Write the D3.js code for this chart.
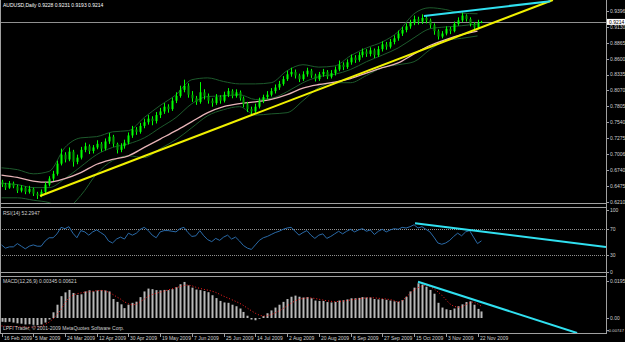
<!DOCTYPE html>
<html>
<head>
<meta charset="utf-8">
<script src="https://cdn.jsdelivr.net/npm/d3@7"></script>
<style>
  body { margin: 0; background: #000; }
  svg text { font-family: "Liberation Sans", Arial, sans-serif; font-size: 5px; fill: #d0d0d0; }
</style>
</head>
<body>
<div id="chart"></div>
<script>
// daily candles, every second bar (day index = 2 * i)
const closes = [
  0.650,0.645,0.652,0.647,0.640,0.645,0.638,0.643,0.635,0.632,
  0.638,0.650,0.660,0.668,0.685,0.700,0.692,0.705,0.688,0.695,
  0.708,0.714,0.706,0.712,0.718,0.710,0.722,0.730,0.718,0.708,
  0.714,0.720,0.732,0.742,0.738,0.748,0.754,0.760,0.756,0.766,
  0.772,0.780,0.776,0.790,0.798,0.808,0.815,0.800,0.794,0.788,
  0.804,0.798,0.790,0.786,0.796,0.790,0.800,0.806,0.798,0.804,
  0.794,0.784,0.776,0.772,0.780,0.790,0.796,0.800,0.806,0.812,
  0.818,0.826,0.834,0.838,0.832,0.826,0.834,0.840,0.832,0.826,
  0.834,0.838,0.830,0.836,0.842,0.850,0.846,0.854,0.862,0.858,
  0.866,0.872,0.868,0.874,0.866,0.876,0.884,0.880,0.888,0.894,
  0.902,0.908,0.914,0.920,0.926,0.922,0.928,0.924,0.916,0.906,
  0.897,0.902,0.910,0.906,0.918,0.924,0.932,0.926,0.918,0.912,
  0.920,0.9214];
const highs = [
  0.658,0.653,0.656,0.655,0.650,0.649,0.647,0.648,0.645,0.638,
  0.642,0.654,0.664,0.673,0.690,0.710,0.704,0.712,0.708,0.700,
  0.713,0.720,0.717,0.716,0.724,0.721,0.727,0.736,0.733,0.720,
  0.719,0.725,0.737,0.748,0.746,0.753,0.760,0.766,0.764,0.771,
  0.778,0.786,0.784,0.795,0.804,0.815,0.825,0.819,0.806,0.798,
  0.821,0.809,0.802,0.794,0.801,0.799,0.805,0.811,0.809,0.809,
  0.807,0.797,0.788,0.780,0.785,0.795,0.800,0.806,0.811,0.817,
  0.823,0.831,0.840,0.845,0.842,0.835,0.839,0.845,0.843,0.835,
  0.838,0.843,0.841,0.841,0.847,0.857,0.854,0.859,0.867,0.866,
  0.871,0.877,0.876,0.879,0.877,0.881,0.889,0.888,0.893,0.899,
  0.907,0.913,0.919,0.925,0.932,0.930,0.934,0.931,0.927,0.919,
  0.909,0.906,0.914,0.913,0.922,0.929,0.937,0.934,0.929,0.921,
  0.925,0.9231];
const lows = [
  0.646,0.641,0.643,0.644,0.636,0.637,0.634,0.635,0.631,0.626,
  0.629,0.636,0.647,0.656,0.665,0.682,0.687,0.689,0.680,0.684,
  0.692,0.704,0.701,0.702,0.709,0.705,0.707,0.718,0.713,0.702,
  0.704,0.710,0.717,0.728,0.733,0.735,0.744,0.750,0.749,0.752,
  0.761,0.768,0.770,0.773,0.786,0.795,0.804,0.795,0.788,0.783,
  0.785,0.792,0.785,0.780,0.783,0.785,0.787,0.796,0.794,0.795,
  0.790,0.779,0.771,0.767,0.769,0.777,0.786,0.792,0.797,0.802,
  0.808,0.815,0.823,0.830,0.827,0.821,0.823,0.830,0.828,0.822,
  0.823,0.830,0.826,0.827,0.832,0.839,0.841,0.843,0.850,0.853,
  0.855,0.862,0.863,0.864,0.861,0.863,0.872,0.875,0.877,0.884,
  0.890,0.898,0.904,0.910,0.916,0.917,0.918,0.919,0.911,0.900,
  0.892,0.894,0.899,0.901,0.904,0.915,0.921,0.922,0.914,0.908,
  0.909,0.9193];
const firstOpen = 0.655;

// bollinger bands + moving average, every 8th day
const bandDays = [0,8,16,24,32,40,48,56,64,72,80,88,96,104,112,120,128,136,144,152,160,168,176,184,192,200,208,216,224,232,240];
const bbUpper = [0.678,0.675,0.668,0.672,0.712,0.728,0.730,0.738,0.740,0.762,0.782,0.800,0.825,0.828,0.822,0.818,0.818,0.820,0.840,0.850,0.846,0.848,0.865,0.878,0.888,0.905,0.935,0.945,0.942,0.936,0.935];
const bbMiddle = [0.652,0.650,0.645,0.645,0.660,0.680,0.700,0.712,0.718,0.728,0.745,0.762,0.785,0.797,0.798,0.800,0.792,0.794,0.805,0.820,0.830,0.834,0.842,0.855,0.866,0.878,0.895,0.910,0.913,0.915,0.918];
const bbLower = [0.628,0.628,0.624,0.620,0.610,0.632,0.668,0.690,0.698,0.695,0.710,0.725,0.745,0.765,0.775,0.780,0.766,0.768,0.770,0.790,0.812,0.820,0.820,0.832,0.845,0.850,0.855,0.875,0.890,0.894,0.898];
const maLine = [0.666,0.662,0.656,0.654,0.660,0.670,0.684,0.692,0.698,0.712,0.726,0.740,0.755,0.770,0.780,0.785,0.788,0.792,0.800,0.811,0.817,0.821,0.827,0.836,0.845,0.853,0.868,0.882,0.892,0.900,0.906];

const rsi = [
  46,41,43,43,48,44,40,44,46,44,
  44,52,57,57,63,73,71,74,64,57,
  68,66,61,66,69,65,61,52,49,55,
  58,55,64,61,64,70,73,68,61,57,
  66,68,68,67,66,71,73,65,59,60,
  68,60,54,51,56,53,58,61,55,58,
  52,45,41,39,46,53,57,59,62,65,
  67,70,72,73,67,61,65,68,61,56,
  61,63,56,59,63,67,63,67,70,66,
  69,71,67,69,62,67,70,66,69,71,
  70,73,72,74,77,72,74,70,66,58,
  49,47,49,53,59,64,60,66,68,58,
  48,52.29];
const macd = [
  -0.0020,-0.0022,-0.0020,-0.0024,-0.0028,-0.0030,-0.0034,-0.0033,-0.0036,-0.0038,
  -0.0034,-0.0024,-0.0008,0.0030,0.0070,0.0115,0.0135,0.0148,0.0132,0.0122,
  0.0125,0.0140,0.0146,0.0140,0.0145,0.0147,0.0145,0.0140,0.0100,0.0085,
  0.0072,0.0052,0.0070,0.0080,0.0086,0.0110,0.0140,0.0155,0.0152,0.0147,
  0.0146,0.0148,0.0147,0.0152,0.0162,0.0178,0.0190,0.0172,0.0160,0.0150,
  0.0147,0.0142,0.0136,0.0120,0.0105,0.0090,0.0082,0.0080,0.0070,0.0062,
  0.0050,0.0032,0.0012,-0.0008,-0.0012,-0.0004,0.0010,0.0025,0.0040,0.0055,
  0.0070,0.0085,0.0100,0.0112,0.0118,0.0112,0.0108,0.0110,0.0104,0.0092,
  0.0090,0.0090,0.0084,0.0082,0.0085,0.0092,0.0094,0.0098,0.0104,0.0104,
  0.0106,0.0110,0.0108,0.0108,0.0100,0.0098,0.0100,0.0096,0.0092,0.0088,
  0.0086,0.0095,0.0112,0.0140,0.0160,0.0183,0.0176,0.0165,0.0148,0.0128,
  0.0080,0.0055,0.0046,0.0042,0.0050,0.0062,0.0072,0.0084,0.0088,0.0070,
  0.0048,0.00345];
const signal = [
  -0.0042,-0.0043,-0.0044,-0.0045,-0.0046,-0.0047,-0.0048,-0.0048,-0.0048,-0.0047,
  -0.0045,-0.0034,-0.0022,-0.0005,0.0020,0.0045,0.0080,0.0105,0.0120,0.0128,
  0.0132,0.0136,0.0138,0.0141,0.0144,0.0146,0.0143,0.0136,0.0125,0.0112,
  0.0100,0.0085,0.0075,0.0069,0.0072,0.0086,0.0100,0.0114,0.0124,0.0130,
  0.0136,0.0142,0.0148,0.0154,0.0160,0.0165,0.0172,0.0174,0.0170,0.0162,
  0.0156,0.0151,0.0147,0.0142,0.0135,0.0125,0.0115,0.0106,0.0097,0.0088,
  0.0078,0.0066,0.0052,0.0038,0.0025,0.0015,0.0010,0.0012,0.0018,0.0027,
  0.0038,0.0050,0.0064,0.0078,0.0090,0.0098,0.0103,0.0106,0.0106,0.0103,
  0.0099,0.0095,0.0091,0.0088,0.0086,0.0087,0.0089,0.0092,0.0095,0.0098,
  0.0101,0.0104,0.0106,0.0107,0.0106,0.0104,0.0102,0.0100,0.0097,0.0092,
  0.0082,0.0090,0.0110,0.0130,0.0148,0.0160,0.0168,0.0173,0.0165,0.0155,
  0.0138,0.0120,0.0098,0.0075,0.0062,0.0057,0.0058,0.0070,0.0080,0.0085,
  0.0075,0.00621];

// hand drawn trendlines, [day, value]
const yellowTrend = [[19.4, 0.631], [278, 0.958]];
const cyanPriceTrend = [[213, 0.9313], [276.7, 0.956]];
const cyanRsiTrend = [[208.5, 79.2], [304.8, 42.8]];
const cyanMacdTrend = [[210, 0.0191], [290.2, -0.0079]];

const priceTicks = ['0.9396','0.9130','0.8865','0.8600','0.8335','0.8070','0.7805','0.7540','0.7275','0.7006','0.6740','0.6475','0.6210'];
const rsiTicks = [100, 70, 30, 0];
const macdTicks = ['0.0195', '0.00', '-0.00747'];
const dateLabels = ['16 Feb 2009','5 Mar 2009','24 Mar 2009','12 Apr 2009','30 Apr 2009','19 May 2009','7 Jun 2009','25 Jun 2009','14 Jul 2009','2 Aug 2009','20 Aug 2009','8 Sep 2009','27 Sep 2009','15 Oct 2009','3 Nov 2009','22 Nov 2009'];
const lastPrice = 0.9214;

const W = 625, H = 342, axisX = 606;

const svg = d3.select('#chart').append('svg')
  .attr('width', W).attr('height', H);

svg.append('rect').attr('width', W).attr('height', H).attr('fill', '#000');

const x = d3.scaleLinear().domain([0, 240]).range([1.5, 477.5]);
const yP = d3.scaleLinear().domain([0.6210, 0.9396]).range([202, 11]);
const yR = d3.scaleLinear().domain([0, 100]).range([274.8, 209.8]);
const yM = d3.scaleLinear().domain([0, 0.0195]).range([318, 281]);

// clip regions for the three panes
const defs = svg.append('defs');
function clip(id, y0, y1) {
  defs.append('clipPath').attr('id', id)
    .append('rect').attr('x', 0).attr('y', y0).attr('width', axisX).attr('height', y1 - y0);
}
clip('cMain', 0, 203);
clip('cRsi', 208, 272);
clip('cMacd', 277, 333);

// ---- main pane ----
const main = svg.append('g').attr('clip-path', 'url(#cMain)');

main.append('line')
  .attr('x1', 0).attr('x2', axisX)
  .attr('y1', Math.round(yP(lastPrice)) + 0.5).attr('y2', Math.round(yP(lastPrice)) + 0.5)
  .attr('stroke', '#909090').attr('stroke-width', 1);

const bandLine = (arr, yScale) => d3.line()
  .x((d, i) => x(bandDays[i]))
  .y(d => yScale(d))
  .curve(d3.curveMonotoneX)(arr);

[bbUpper, bbMiddle, bbLower].forEach(arr => {
  main.append('path').attr('d', bandLine(arr, yP))
    .attr('fill', 'none').attr('stroke', '#1d5a2c').attr('stroke-width', 1);
});

main.append('path').attr('d', bandLine(maLine, yP))
  .attr('fill', 'none').attr('stroke', '#e8b4b8').attr('stroke-width', 1.3);

const candles = closes.map((c, i) => ({
  day: 2 * i,
  open: i ? closes[i - 1] : firstOpen,
  close: c, high: highs[i], low: lows[i]
}));

main.selectAll('line.wick').data(candles).enter().append('line')
  .attr('class', 'wick')
  .attr('x1', d => Math.round(x(d.day)) + 0.5).attr('x2', d => Math.round(x(d.day)) + 0.5)
  .attr('y1', d => yP(d.high)).attr('y2', d => yP(d.low))
  .attr('stroke', '#00ff00').attr('stroke-width', 1);

main.selectAll('rect.body').data(candles).enter().append('rect')
  .attr('class', 'body')
  .attr('x', d => Math.round(x(d.day)) - 0.5)
  .attr('width', 2)
  .attr('y', d => yP(Math.max(d.open, d.close)))
  .attr('height', d => Math.max(1, Math.abs(yP(d.open) - yP(d.close))))
  .attr('fill', d => d.close >= d.open ? '#00ff00' : '#00a000');

const trend = (pts, yScale) => d3.line().x(d => x(d[0])).y(d => yScale(d[1]))(pts);

main.append('path').attr('d', trend(yellowTrend, yP))
  .attr('stroke', '#f0f000').attr('stroke-width', 2).attr('fill', 'none');
main.append('path').attr('d', trend(cyanPriceTrend, yP))
  .attr('stroke', '#30e0f0').attr('stroke-width', 2).attr('fill', 'none');

svg.append('text').attr('x', 3).attr('y', 7)
  .style('fill', '#ffffff')
  .text('AUDUSD,Daily  0.9228 0.9231 0.9193 0.9214');

// ---- RSI pane ----
const rp = svg.append('g').attr('clip-path', 'url(#cRsi)');
[70, 30].forEach(v => {
  rp.append('line').attr('x1', 0).attr('x2', axisX)
    .attr('y1', Math.round(yR(v)) + 0.5).attr('y2', Math.round(yR(v)) + 0.5)
    .attr('stroke', '#909090').attr('stroke-dasharray', '1,1');
});
rp.append('path')
  .attr('d', d3.line().x((d, i) => x(2 * i)).y(d => yR(d))(rsi))
  .attr('fill', 'none').attr('stroke', '#2a6aa8').attr('stroke-width', 1);
rp.append('path').attr('d', trend(cyanRsiTrend, yR))
  .attr('stroke', '#30e0f0').attr('stroke-width', 2).attr('fill', 'none');

svg.append('text').attr('x', 3).attr('y', 215).text('RSI(14) 52.2947');

// ---- MACD pane ----
const mp = svg.append('g').attr('clip-path', 'url(#cMacd)');
mp.selectAll('rect.hist').data(macd).enter().append('rect')
  .attr('class', 'hist')
  .attr('x', (d, i) => Math.round(x(2 * i)) - 0.5)
  .attr('width', 2)
  .attr('y', d => Math.min(yM(d), yM(0)))
  .attr('height', d => Math.abs(yM(d) - yM(0)))
  .attr('fill', '#b8b8b8');
mp.append('path')
  .attr('d', d3.line().x((d, i) => x(2 * i)).y(d => yM(d))(signal))
  .attr('fill', 'none').attr('stroke', '#ff2020').attr('stroke-width', 1)
  .attr('stroke-dasharray', '1,2');
mp.append('path').attr('d', trend(cyanMacdTrend, yM))
  .attr('stroke', '#30e0f0').attr('stroke-width', 2).attr('fill', 'none');

svg.append('text').attr('x', 3).attr('y', 283).text('MACD(12,26,9) 0.00345 0.00621');
svg.append('text').attr('x', 3).attr('y', 330).text('LPFI Trader, \u00a9 2001-2009 MetaQuotes Software Corp.');

// ---- frame and separators ----
const grey = '#a0a0a0';
[203.5, 207.5, 272.5, 276.5, 333.5].forEach(yy => {
  svg.append('line').attr('x1', 0).attr('x2', axisX).attr('y1', yy).attr('y2', yy)
    .attr('stroke', grey).attr('stroke-width', 1);
});
svg.append('line').attr('x1', 0.5).attr('x2', 0.5).attr('y1', 0).attr('y2', 334)
  .attr('stroke', grey);
svg.append('line').attr('x1', axisX + 0.5).attr('x2', axisX + 0.5).attr('y1', 0).attr('y2', 334)
  .attr('stroke', grey);

// right axes
function rightLabels(list, yFn) {
  list.forEach(t => {
    const yy = yFn(t);
    const long = String(t).length > 6;
    svg.append('line').attr('x1', axisX).attr('x2', axisX + 3)
      .attr('y1', Math.round(yy) + 0.5).attr('y2', Math.round(yy) + 0.5).attr('stroke', grey);
    svg.append('text')
      .attr('x', long ? 624 : axisX + 4).attr('y', yy + 1.8)
      .attr('text-anchor', long ? 'end' : 'start')
      .style('font-size', long ? '4.2px' : null)
      .text(t);
  });
}
rightLabels(priceTicks, t => yP(+t));
rightLabels(rsiTicks, t => Math.min(yR(t), 272));
rightLabels(macdTicks, t => Math.min(yM(+t), 330));

// last price marker
const ly = yP(lastPrice);
svg.append('rect').attr('x', axisX + 1).attr('y', ly - 3).attr('width', 18).attr('height', 6)
  .attr('fill', '#ffffff');
svg.append('text').attr('x', axisX + 3).attr('y', ly + 1.8).style('fill', '#000')
  .text(lastPrice.toFixed(4));

// date axis
dateLabels.forEach((lab, k) => {
  const xx = Math.round(x(16 * k)) + 0.5;
  svg.append('line').attr('x1', xx).attr('x2', xx).attr('y1', 334).attr('y2', 337)
    .attr('stroke', grey);
  svg.append('text').attr('x', xx + 1.5).attr('y', 340).text(lab);
});
</script>
</body>
</html>
